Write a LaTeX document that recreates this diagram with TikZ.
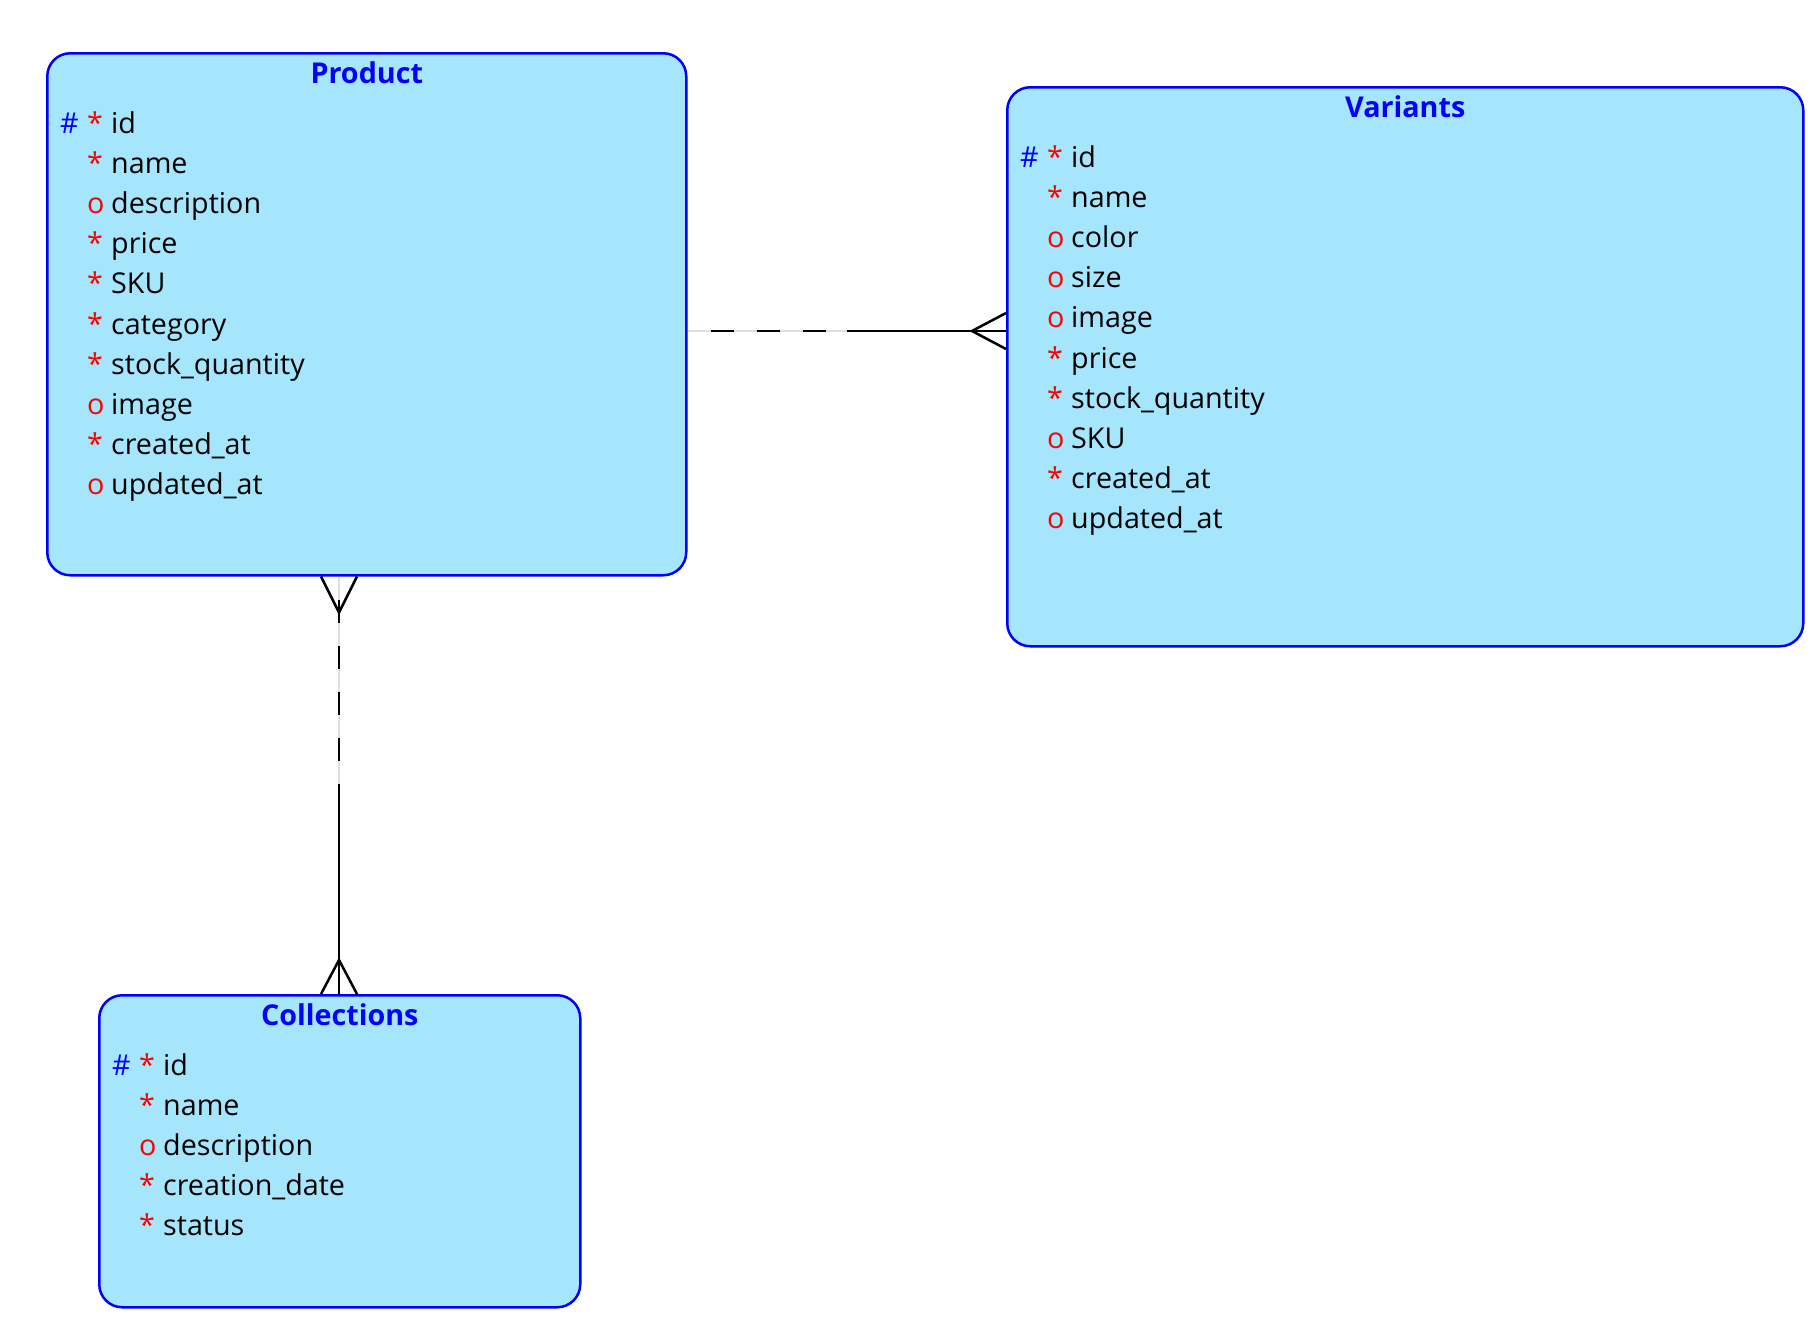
\documentclass[tikz,border=0pt]{standalone}
\usepackage{fontspec}
\setmainfont{Open Sans}
\usetikzlibrary{calc}

\definecolor{entityfill}{HTML}{A5E6FD}
\definecolor{entityline}{HTML}{0000FF}
\definecolor{markred}{HTML}{FF0000}

\newcommand\attrsize{\fontsize{28.7}{34}\selectfont}

\tikzset{
  entity/.style={draw=entityline, fill=entityfill, line width=2.5pt,
    rounded corners=23pt, anchor=north west, inner sep=0pt},
  etitle/.style={anchor=base, font=\attrsize\bfseries, text=entityline, inner sep=0pt},
  attr/.style={anchor=base west, font=\attrsize, inner sep=0pt},
  pkmark/.style={attr, text=entityline},
  flagmark/.style={attr, text=markred},
  rel/.style={line width=2.5pt, draw=black},
  relfaint/.style={line width=2.5pt, draw=black!12},
  reldash/.style={line width=2.5pt, draw=black, dash pattern=on 23pt off 23pt, dash phase=23pt},
}

% attribute rows of one entity: #1 prefix, #2 left x, #3 top y, #4 flag/name list
\newcommand\entityrows[4]{%
  \node[pkmark] (#1-pk) at (#2+14, #3+81.5) {\#};
  \foreach [count=\i from 0] \f/\n in {#4} {
    \node[flagmark] (#1-f\i) at (#2+41, #3+81.5+40.1*\i) {\f};
    \node[attr] (#1-a\i) at (#2+65, #3+81.5+40.1*\i) {\n};
  }%
}

\begin{document}
\begin{tikzpicture}[x=1pt, y=-1pt]
  \useasboundingbox (0,0) rectangle (1815,1318);

  % entities
  \node[entity, minimum width=639pt, minimum height=522pt] (product) at (46,52) {};
  \node[entity, minimum width=796pt, minimum height=559pt] (variants) at (1006,86) {};
  \node[entity, minimum width=481pt, minimum height=312pt] (collections) at (98,994) {};

  \node[etitle] (product-title) at ($(product.north)+(0,31)$) {Product};
  \node[etitle] (variants-title) at ($(variants.north)+(0,31)$) {Variants};
  \node[etitle] (collections-title) at ($(collections.north)+(0,31)$) {Collections};

  \entityrows{product}{46}{52}{*/id, */name, o/description, */price, */SKU,
    */category, */stock\_quantity, o/image, */created\_at, o/updated\_at}
  \entityrows{variants}{1006}{86}{*/id, */name, o/color, o/size, o/image,
    */price, */stock\_quantity, o/SKU, */created\_at, o/updated\_at}
  \entityrows{collections}{98}{994}{*/id, */name, o/description,
    */creation\_date, */status}

  % Product -- Variants (many)
  \coordinate (pvA) at (product.east |- 0,331);
  \coordinate (pvB) at (variants.west |- 0,331);
  \coordinate (pvM) at ($(pvA)!0.5!(pvB)$);
  \draw[relfaint] (pvA) -- (pvM);
  \draw[reldash] (pvA) -- (pvM);
  \draw[rel] (pvM) -- (pvB);
  \draw[rel] ($(pvB)+(0,-18)$) -- ($(pvB)+(-34,0)$) -- ($(pvB)+(0,18)$);

  % Product (many) -- Collections (many)
  \coordinate (pcA) at (product.south -| 339,0);
  \coordinate (pcB) at (collections.north -| 339,0);
  \coordinate (pcM) at ($(pcA)!0.5!(pcB)$);
  \draw[relfaint] (pcA) -- (pcM);
  \draw[reldash] (pcA) -- (pcM);
  \draw[rel] (pcM) -- (pcB);
  \draw[rel] ($(pcA)+(-18,0)$) -- ($(pcA)+(0,36)$) -- ($(pcA)+(18,0)$);
  \draw[rel] ($(pcB)+(-18,0)$) -- ($(pcB)+(0,-34)$) -- ($(pcB)+(18,0)$);
\end{tikzpicture}
\end{document}
